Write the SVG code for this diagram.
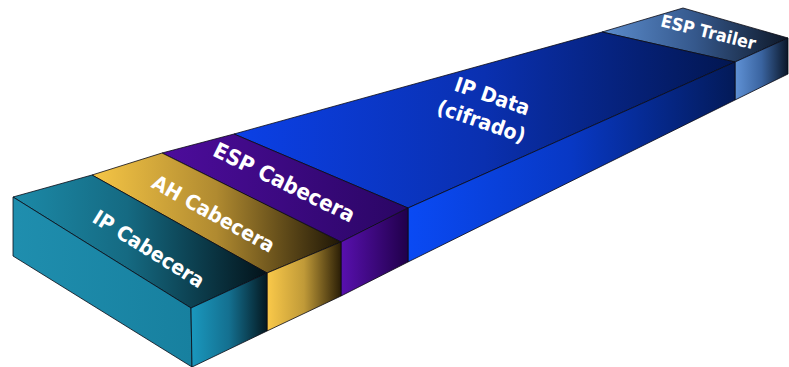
<svg xmlns="http://www.w3.org/2000/svg" width="789" height="367" viewBox="0 0 789 367">
<defs>
<style>
.f{stroke:#0a0a14;stroke-width:0.8;stroke-linejoin:round}
.t{font-family:"DejaVu Sans","Liberation Sans",sans-serif;font-weight:bold;font-size:19px;fill:#ffffff;text-anchor:middle}
</style>
<linearGradient id="ipTop" x1="0" y1="0" x2="1" y2="0"><stop offset="0" stop-color="#1c8aa8"/><stop offset="0.45" stop-color="#156a82"/><stop offset="1" stop-color="#031219"/></linearGradient>
<linearGradient id="ipFront" x1="0" y1="0" x2="1" y2="0"><stop offset="0" stop-color="#1f8eae"/><stop offset="1" stop-color="#17809f"/></linearGradient>
<linearGradient id="ipSide" x1="0" y1="0" x2="1" y2="0"><stop offset="0" stop-color="#1a98be"/><stop offset="0.5" stop-color="#147090"/><stop offset="1" stop-color="#041820"/></linearGradient>
<linearGradient id="ahTop" x1="0" y1="0" x2="1" y2="0"><stop offset="0" stop-color="#f6c646"/><stop offset="0.5" stop-color="#b08a30"/><stop offset="1" stop-color="#1e1606"/></linearGradient>
<linearGradient id="ahSide" x1="0" y1="0" x2="1" y2="0"><stop offset="0" stop-color="#fac94a"/><stop offset="0.5" stop-color="#c09a38"/><stop offset="1" stop-color="#2a1e06"/></linearGradient>
<linearGradient id="espTop" x1="0" y1="0" x2="1" y2="0"><stop offset="0" stop-color="#4d0c9c"/><stop offset="1" stop-color="#2a0664"/></linearGradient>
<linearGradient id="espSide" x1="0" y1="0" x2="1" y2="0"><stop offset="0" stop-color="#5810ae"/><stop offset="1" stop-color="#20004a"/></linearGradient>
<linearGradient id="dataTop" x1="0" y1="0" x2="1" y2="0"><stop offset="0" stop-color="#0b40e6"/><stop offset="0.5" stop-color="#0a30b0"/><stop offset="1" stop-color="#021650"/></linearGradient>
<linearGradient id="dataSide" x1="0" y1="0" x2="1" y2="0"><stop offset="0" stop-color="#0a4af4"/><stop offset="0.5" stop-color="#0838c4"/><stop offset="1" stop-color="#031a58"/></linearGradient>
<linearGradient id="trTop" x1="0" y1="0" x2="1" y2="0"><stop offset="0" stop-color="#5c8dcd"/><stop offset="0.5" stop-color="#35588c"/><stop offset="1" stop-color="#0e1828"/></linearGradient>
<linearGradient id="trSide" x1="0" y1="0" x2="1" y2="0"><stop offset="0" stop-color="#6092d6"/><stop offset="0.5" stop-color="#3a64a0"/><stop offset="1" stop-color="#0a1628"/></linearGradient>
</defs>
<g id="esp-trailer">
<polygon class="f" points="602,32 683,8 788,38 735,62" fill="url(#trTop)"/>
<polygon class="f" points="735,62 788,38 788,74 735,100" fill="url(#trSide)"/>
<text class="t" style="font-size:16px" transform="translate(707,38) rotate(14) scale(1,1.08)">ESP Trailer</text>
</g>
<g id="ip-data">
<polygon class="f" points="234,134 602,32 735,62 408,208" fill="url(#dataTop)"/>
<polygon class="f" points="408,208 735,62 735,100 408,262" fill="url(#dataSide)"/>
<text class="t" transform="translate(490,103) rotate(19) scale(1,1.08)">IP Data</text>
<text class="t" transform="translate(479,128) rotate(19) scale(1,1.08)">(cifrado)</text>
</g>
<g id="esp-cabecera">
<polygon class="f" points="162,153 234,134 408,208 341,242" fill="url(#espTop)"/>
<polygon class="f" points="341,242 408,208 408,262 341,296" fill="url(#espSide)"/>
<text class="t" style="font-size:20px" transform="translate(281,189) rotate(26) scale(1,1.08)">ESP Cabecera</text>
</g>
<g id="ah-cabecera">
<polygon class="f" points="92,175 162,153 341,242 267,273" fill="url(#ahTop)"/>
<polygon class="f" points="267,273 341,242 341,296 267,331" fill="url(#ahSide)"/>
<text class="t" transform="translate(210,220) rotate(29) scale(1,1.08)">AH Cabecera</text>
</g>
<g id="ip-cabecera">
<polygon class="f" points="13,197 92,175 267,273 191,308" fill="url(#ipTop)"/>
<polygon class="f" points="13,197 191,308 192,367 13,256" fill="url(#ipFront)"/>
<polygon class="f" points="191,308 267,273 267,331 192,367" fill="url(#ipSide)"/>
<text class="t" transform="translate(145,255) rotate(32) scale(1,1.08)">IP Cabecera</text>
</g>
</svg>
